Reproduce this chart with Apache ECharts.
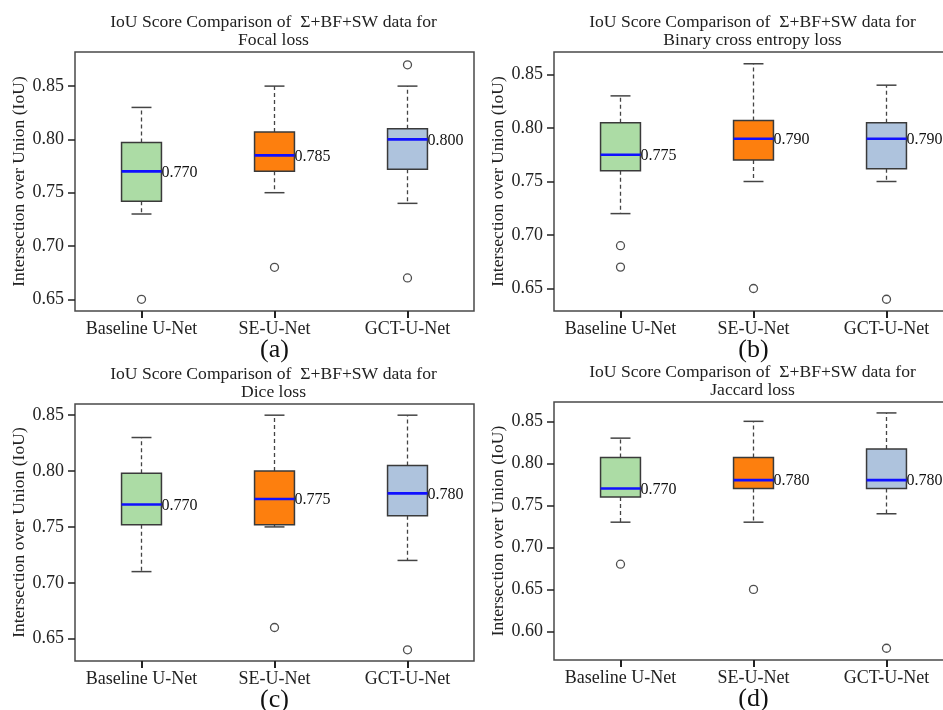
<!DOCTYPE html>
<html>
<head>
<meta charset="utf-8">
<script src="https://cdn.jsdelivr.net/npm/echarts@6/dist/echarts.min.js"></script>
<style>
html,body{margin:0;padding:0;background:#fff;}
#chart{width:943px;height:710px;}
</style>
</head>
<body>
<div id="chart"></div>
<script>
// ---------------- data ----------------
const categories = ['Baseline U-Net', 'SE-U-Net', 'GCT-U-Net'];
const panelTitles = [
  'IoU Score Comparison of  \u03A3+BF+SW data for\nFocal loss',
  'IoU Score Comparison of  \u03A3+BF+SW data for\nBinary cross entropy loss',
  'IoU Score Comparison of  \u03A3+BF+SW data for\nDice loss',
  'IoU Score Comparison of  \u03A3+BF+SW data for\nJaccard loss'
];
const panelTags = ['(a)', '(b)', '(c)', '(d)'];
const yAxisName = 'Intersection over Union (IoU)';

// [lower whisker, Q1, median, Q3, upper whisker] per category
const focalStats   = [[0.730, 0.742, 0.770, 0.797, 0.830], [0.750, 0.770, 0.785, 0.807, 0.850], [0.740, 0.772, 0.800, 0.810, 0.850]];
const bceStats     = [[0.720, 0.760, 0.775, 0.805, 0.830], [0.750, 0.770, 0.790, 0.807, 0.860], [0.750, 0.762, 0.790, 0.805, 0.840]];
const diceStats    = [[0.710, 0.752, 0.770, 0.798, 0.830], [0.750, 0.752, 0.775, 0.800, 0.850], [0.720, 0.760, 0.780, 0.805, 0.850]];
const jaccardStats = [[0.730, 0.760, 0.770, 0.807, 0.830], [0.730, 0.770, 0.780, 0.807, 0.850], [0.740, 0.770, 0.780, 0.817, 0.860]];

// [category index, value]
const focalOutliers   = [[0, 0.65], [1, 0.68], [2, 0.87], [2, 0.67]];
const bceOutliers     = [[0, 0.69], [0, 0.67], [1, 0.65], [2, 0.64]];
const diceOutliers    = [[1, 0.66], [2, 0.64]];
const jaccardOutliers = [[0, 0.68], [1, 0.65], [2, 0.58]];

const focalTicks   = [0.65, 0.70, 0.75, 0.80, 0.85];
const bceTicks     = [0.65, 0.70, 0.75, 0.80, 0.85];
const diceTicks    = [0.65, 0.70, 0.75, 0.80, 0.85];
const jaccardTicks = [0.60, 0.65, 0.70, 0.75, 0.80, 0.85];

// ---------------- layout / style ----------------
const boxColors = ['#acdca5', '#fd7f0e', '#aec3dd'];
const FONT = "'Liberation Serif', 'DejaVu Serif', serif";
const panels = [
  { stats: focalStats,   outliers: focalOutliers,   ticks: focalTicks,   grid: {left: 75,  top: 52,  width: 399, height: 259}, yMin: 0.639, yMax: 0.882 },
  { stats: bceStats,     outliers: bceOutliers,     ticks: bceTicks,     grid: {left: 554, top: 52,  width: 399, height: 259}, yMin: 0.629, yMax: 0.871 },
  { stats: diceStats,    outliers: diceOutliers,    ticks: diceTicks,    grid: {left: 75,  top: 404, width: 399, height: 257}, yMin: 0.630, yMax: 0.860 },
  { stats: jaccardStats, outliers: jaccardOutliers, ticks: jaccardTicks, grid: {left: 554, top: 402, width: 399, height: 258}, yMin: 0.566, yMax: 0.873 }
];

function renderBox(params, api) {
  const ci = api.value(0);
  const low = api.coord([ci, api.value(1)]);
  const q1 = api.coord([ci, api.value(2)]);
  const med = api.coord([ci, api.value(3)]);
  const q3 = api.coord([ci, api.value(4)]);
  const high = api.coord([ci, api.value(5)]);
  const bw = api.size([1, 0])[0] * 0.30;
  const cw = bw * 0.5;
  const cx = med[0];
  const edge = '#3a3a3a';
  const dash = {stroke: '#444', lineWidth: 1.3, lineDash: [4, 3]};
  return {
    type: 'group',
    children: [
      {type: 'line', shape: {x1: cx, y1: q3[1], x2: cx, y2: high[1]}, style: dash},
      {type: 'line', shape: {x1: cx, y1: q1[1], x2: cx, y2: low[1]}, style: dash},
      {type: 'line', shape: {x1: cx - cw / 2, y1: high[1], x2: cx + cw / 2, y2: high[1]}, style: {stroke: '#444', lineWidth: 1.5}},
      {type: 'line', shape: {x1: cx - cw / 2, y1: low[1], x2: cx + cw / 2, y2: low[1]}, style: {stroke: '#444', lineWidth: 1.5}},
      {type: 'rect', shape: {x: cx - bw / 2, y: q3[1], width: bw, height: q1[1] - q3[1]},
        style: {fill: boxColors[ci], stroke: edge, lineWidth: 1.5}},
      {type: 'line', shape: {x1: cx - bw / 2, y1: med[1], x2: cx + bw / 2, y2: med[1]}, style: {stroke: '#1010ff', lineWidth: 2.6}},
      {type: 'text', x: cx + bw / 2, y: med[1] + 1,
        style: {text: api.value(3).toFixed(3), fill: '#111', font: '16px ' + FONT, textAlign: 'left', textVerticalAlign: 'middle'}}
    ]
  };
}

const option = {
  animation: false,
  backgroundColor: '#fff',
  title: panels.map((p, i) => ({
    text: panelTitles[i],
    left: p.grid.left + p.grid.width / 2 - 1,
    top: p.grid.top - 39,
    textAlign: 'center',
    padding: 0,
    textStyle: {fontFamily: FONT, fontSize: 17.6, fontWeight: 'normal', color: '#222', lineHeight: 18.5}
  })),
  graphic: panels.map((p, i) => ({
    type: 'text',
    x: p.grid.left + p.grid.width / 2,
    y: p.grid.top + p.grid.height + 39,
    style: {text: panelTags[i], font: '26px ' + FONT, fill: '#111', textAlign: 'center', textVerticalAlign: 'middle'}
  })),
  grid: panels.map(p => Object.assign({show: true, borderColor: '#4a4a4a', borderWidth: 1.5, backgroundColor: 'transparent',
    containLabel: false, outerBoundsMode: 'none'}, p.grid)),
  xAxis: panels.map((p, i) => ({
    type: 'category',
    gridIndex: i,
    data: categories,
    boundaryGap: true,
    axisLine: {show: false},
    axisTick: {show: true, alignWithLabel: true, length: 7, lineStyle: {color: '#222', width: 2}},
    axisLabel: {fontFamily: FONT, fontSize: 18, color: '#222', margin: 9, interval: 0},
    splitLine: {show: false}
  })),
  yAxis: panels.map((p, i) => ({
    type: 'value',
    gridIndex: i,
    min: p.yMin,
    max: p.yMax,
    name: yAxisName,
    nameLocation: 'middle',
    nameGap: 47,
    nameTextStyle: {fontFamily: FONT, fontSize: 17.6, color: '#222'},
    axisLine: {show: false},
    axisTick: {show: true, length: 7, customValues: p.ticks, lineStyle: {color: '#222', width: 1.5}},
    axisLabel: {fontFamily: FONT, fontSize: 18, color: '#222', margin: 11, customValues: p.ticks,
      formatter: v => v.toFixed(2)},
    splitLine: {show: false}
  })),
  series: panels.flatMap((p, i) => [
    {
      type: 'custom',
      xAxisIndex: i, yAxisIndex: i,
      renderItem: renderBox,
      encode: {x: 0, y: [1, 2, 3, 4, 5]},
      data: p.stats.map((s, ci) => [ci].concat(s)),
      clip: false,
      z: 2
    },
    {
      type: 'scatter',
      xAxisIndex: i, yAxisIndex: i,
      symbol: 'circle',
      symbolSize: 8,
      itemStyle: {color: '#fff', borderColor: '#222', borderWidth: 1.3},
      data: p.outliers,
      z: 3
    }
  ])
};

const chart = echarts.init(document.getElementById('chart'), null, {renderer: 'canvas'});
chart.setOption(option);
</script>
</body>
</html>
